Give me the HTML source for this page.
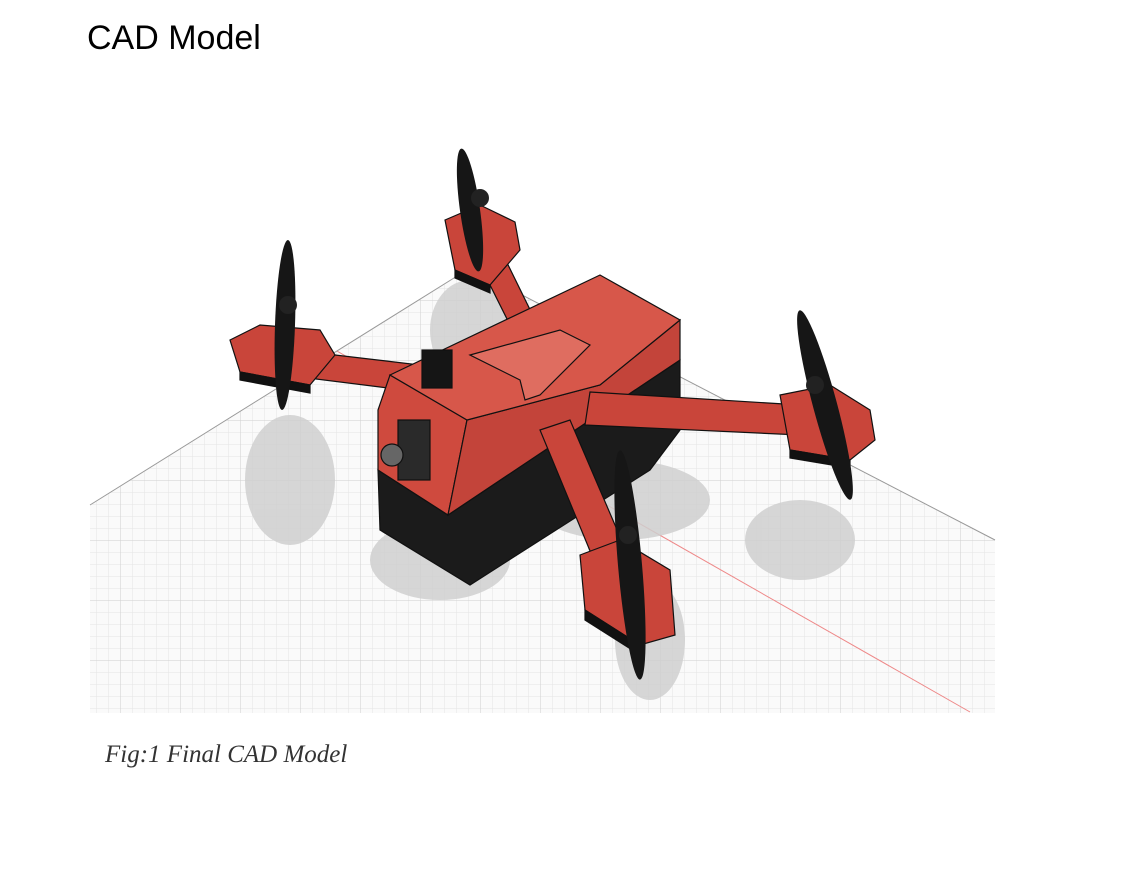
<!DOCTYPE html>
<html><head><meta charset="utf-8"><style>
body{margin:0;width:1130px;height:884px;background:#fff;overflow:hidden;position:relative;font-family:"Liberation Sans",sans-serif}
#title{position:absolute;left:87px;top:19px;font-size:34px;color:#000}
#cap{position:absolute;left:105px;top:741px;font-family:"Liberation Serif",serif;font-style:italic;font-size:25px;color:#333}
svg{position:absolute;left:0;top:0}
</style></head><body>
<div id="title">CAD Model</div>
<svg width="1130" height="884">
<defs>
<pattern id="g" width="12" height="12" patternUnits="userSpaceOnUse"><path d="M12 0H0V12" fill="none" stroke="#e4e4e4" stroke-width="1"/></pattern>
<pattern id="G" width="60" height="60" patternUnits="userSpaceOnUse"><path d="M60 0H0V60" fill="none" stroke="#cfcfcf" stroke-width="1"/></pattern>
<clipPath id="fc"><polygon points="90,505 470,268 995,540 995,713 90,713"/></clipPath>
</defs>
<g clip-path="url(#fc)">
<rect x="90" y="260" width="905" height="455" fill="#fafafa"/>
<rect x="90" y="260" width="905" height="455" fill="url(#g)"/>
<rect x="90" y="260" width="905" height="455" fill="url(#G)"/>
<line x1="300" y1="330" x2="970" y2="712" stroke="#e88" stroke-width="1"/>
<g fill="#cfcfcf" opacity="0.85">
<ellipse cx="290" cy="480" rx="45" ry="65"/>
<ellipse cx="440" cy="560" rx="70" ry="40"/>
<ellipse cx="470" cy="330" rx="40" ry="50"/>
<ellipse cx="650" cy="640" rx="35" ry="60"/>
<ellipse cx="800" cy="540" rx="55" ry="40"/>
<ellipse cx="620" cy="500" rx="90" ry="40"/>
</g>
</g>
<line x1="90" y1="505" x2="470" y2="268" stroke="#999"/>
<line x1="470" y1="268" x2="995" y2="540" stroke="#999"/>
<g stroke="#111" stroke-width="1.2">
<polygon points="465,235 490,228 540,330 520,345" fill="#c9453a"/>
<polygon points="445,220 480,205 515,222 520,250 490,285 455,270" fill="#c9453a"/>
<polygon points="455,270 490,285 490,293 455,278" fill="#111"/>
<polygon points="250,345 420,365 420,392 260,372" fill="#c9453a"/>
<polygon points="230,340 260,325 320,330 335,355 310,385 240,372" fill="#c9453a"/>
<polygon points="240,372 310,385 310,393 240,380" fill="#111"/>
<polygon points="378,470 448,515 680,360 680,430 650,470 470,585 380,530" fill="#1b1b1b"/>
<polygon points="390,375 467,420 448,515 378,470 378,410" fill="#cf4a3e"/>
<polygon points="467,420 600,385 680,320 680,360 448,515" fill="#c3443a"/>
<polygon points="390,375 600,275 680,320 600,385 467,420" fill="#d7574a"/>
<polygon points="470,355 560,330 590,345 540,395 525,400 520,380" fill="#df6d60"/>
<rect x="422" y="350" width="30" height="38" fill="#151515"/>
<rect x="398" y="420" width="32" height="60" fill="#2a2a2a"/>
<circle cx="392" cy="455" r="11" fill="#666"/>
<polygon points="590,392 800,405 800,435 585,425" fill="#c9453a"/>
<polygon points="780,395 830,385 870,410 875,440 850,460 790,450" fill="#c9453a"/>
<polygon points="790,450 850,460 850,468 790,458" fill="#111"/>
<polygon points="540,430 570,420 630,560 600,575" fill="#c9453a"/>
<polygon points="580,555 620,540 670,570 675,635 640,645 585,610" fill="#c9453a"/>
<polygon points="585,610 640,645 640,655 585,620" fill="#111"/>
</g>
<g fill="#161616">
<ellipse cx="470" cy="210" rx="10" ry="62" transform="rotate(-8 470 210)"/>
<circle cx="480" cy="198" r="9" fill="#222"/>
<ellipse cx="285" cy="325" rx="10" ry="85" transform="rotate(2 285 325)"/>
<circle cx="288" cy="305" r="9" fill="#222"/>
<ellipse cx="825" cy="405" rx="12" ry="98" transform="rotate(-15 825 405)"/>
<circle cx="815" cy="385" r="9" fill="#222"/>
<ellipse cx="630" cy="565" rx="12" ry="115" transform="rotate(-5 630 565)"/>
<circle cx="628" cy="535" r="9" fill="#222"/>
</g>
</svg>
<div id="cap">Fig:1 Final CAD Model</div>
</body></html>
